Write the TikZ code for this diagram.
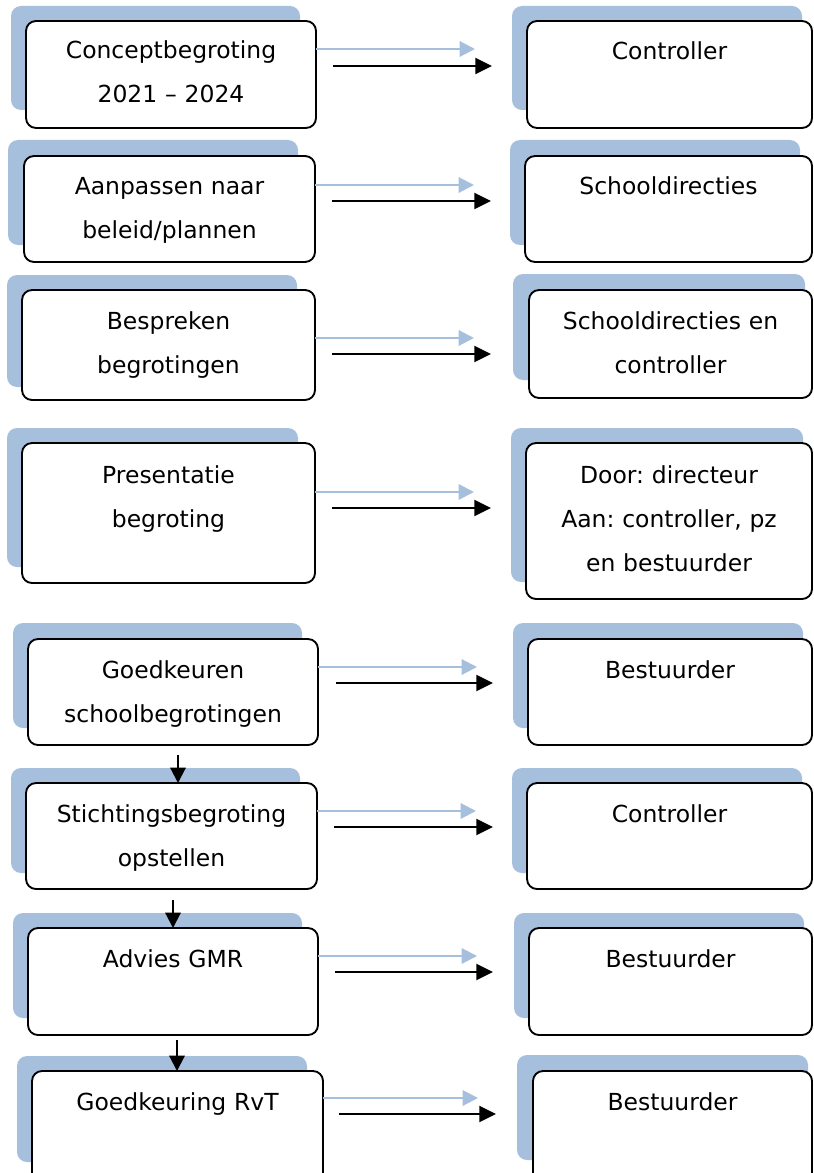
\documentclass[tikz,border=0pt]{standalone}
\usepackage{fontspec}
\setmainfont{DejaVu Sans}
\usetikzlibrary{arrows.meta,calc,fit}
\definecolor{shade}{HTML}{A6BFDD}
\frenchspacing
\tikzset{
  box/.style={draw=black, line width=1.4pt, fill=white, rounded corners=7.5pt, inner sep=0pt, outer sep=0pt},
  shadowbox/.style={fill=shade, rounded corners=7.5pt},
  txt/.style={anchor=base, align=center, text width=220pt, font=\fontsize{17.6}{33}\selectfont, inner sep=0pt},
  bluearr/.style={draw=shade, line width=1.6pt, -{Triangle[length=11.5pt,width=11.5pt]}},
  blackarr/.style={draw=black, line width=1.6pt, -{Triangle[length=12.5pt,width=12pt]}},
  downarr/.style={draw=black, line width=1.6pt, -{Triangle[length=11.5pt,width=11.5pt]}}
}
\begin{document}
\begin{tikzpicture}[x=0.75pt,y=-0.75pt]
\clip (0,0) rectangle (813,1173);
\fill[white] (0,0) rectangle (813,1173);

% Row 1
\fill[shadowbox] (11,6) rectangle (300,110);
\node[box, fit={(26,21) (316,128)}] (L1) {};
\node[txt] (tL1) at ($(L1.north)+(0,38)$) {Conceptbegroting\\2021 – 2024};
\fill[shadowbox] (512,6) rectangle (802,110);
\node[box, fit={(527,21) (812,128)}] (R1) {};
\node[txt] (tR1) at ($(R1.north)+(0,39)$) {Controller};
\draw[bluearr] ($(L1.north east)+(0,28)$) -- ++(159,0);
\draw[blackarr] ($(L1.north east)+(17,45)$) -- ++(159,0);

% Row 2
\fill[shadowbox] (8,140) rectangle (298,245);
\node[box, fit={(24,156) (315,262)}] (L2) {};
\node[txt] (tL2) at ($(L2.north)+(0,39)$) {Aanpassen naar\\beleid/plannen};
\fill[shadowbox] (510,140) rectangle (800,245);
\node[box, fit={(525,156) (812,262)}] (R2) {};
\node[txt] (tR2) at ($(R2.north)+(0,39)$) {Schooldirecties};
\draw[bluearr] ($(L2.north east)+(0,29)$) -- ++(159,0);
\draw[blackarr] ($(L2.north east)+(17,45)$) -- ++(159,0);

% Row 3
\fill[shadowbox] (7,275) rectangle (297,387);
\node[box, fit={(22,290) (315,400)}] (L3) {};
\node[txt] (tL3) at ($(L3.north)+(0,39)$) {Bespreken\\begrotingen};
\fill[shadowbox] (513,274) rectangle (805,380);
\node[box, fit={(529,290) (812,398)}] (R3) {};
\node[txt] (tR3) at ($(R3.north)+(0,39)$) {Schooldirecties en\\controller};
\draw[bluearr] ($(L3.north east)+(0,48)$) -- ++(159,0);
\draw[blackarr] ($(L3.north east)+(17,64)$) -- ++(159,0);

% Row 4
\fill[shadowbox] (7,428) rectangle (298,567);
\node[box, fit={(22,443) (315,583)}] (L4) {};
\node[txt] (tL4) at ($(L4.north)+(0,40)$) {Presentatie\\begroting};
\fill[shadowbox] (511,428) rectangle (803,582);
\node[box, fit={(526,443) (812,599)}] (R4) {};
\node[txt] (tR4) at ($(R4.north)+(0,40)$) {Door: directeur\\Aan: controller, pz\\en bestuurder};
\draw[bluearr] ($(L4.north east)+(0,49)$) -- ++(159,0);
\draw[blackarr] ($(L4.north east)+(17,65)$) -- ++(159,0);

% Row 5
\fill[shadowbox] (13,623) rectangle (302,728);
\node[box, fit={(28,639) (318,745)}] (L5) {};
\node[txt] (tL5) at ($(L5.north)+(0,39)$) {Goedkeuren\\schoolbegrotingen};
\fill[shadowbox] (513,623) rectangle (803,728);
\node[box, fit={(528,639) (812,745)}] (R5) {};
\node[txt] (tR5) at ($(R5.north)+(0,39)$) {Bestuurder};
\draw[bluearr] ($(L5.north east)+(0,28)$) -- ++(159,0);
\draw[blackarr] ($(L5.north east)+(18,44)$) -- ++(157,0);

% Row 6
\fill[shadowbox] (11,768) rectangle (300,873);
\node[box, fit={(26,783) (317,889)}] (L6) {};
\node[txt] (tL6) at ($(L6.north)+(0,39)$) {Stichtingsbegroting\\opstellen};
\fill[shadowbox] (512,768) rectangle (802,873);
\node[box, fit={(527,783) (812,889)}] (R6) {};
\node[txt] (tR6) at ($(R6.north)+(0,39)$) {Controller};
\draw[bluearr] ($(L6.north east)+(0,28)$) -- ++(159,0);
\draw[blackarr] ($(L6.north east)+(17,44)$) -- ++(159,0);

% Row 7
\fill[shadowbox] (13,913) rectangle (302,1018);
\node[box, fit={(28,928) (318,1035)}] (L7) {};
\node[txt] (tL7) at ($(L7.north)+(0,39)$) {Advies GMR};
\fill[shadowbox] (514,913) rectangle (804,1018);
\node[box, fit={(529,928) (812,1035)}] (R7) {};
\node[txt] (tR7) at ($(R7.north)+(0,39)$) {Bestuurder};
\draw[bluearr] ($(L7.north east)+(0,28)$) -- ++(159,0);
\draw[blackarr] ($(L7.north east)+(17,44)$) -- ++(158,0);

% Row 8
\fill[shadowbox] (17,1056) rectangle (307,1162);
\node[box, fit={(32,1071) (323,1185)}] (L8) {};
\node[txt] (tL8) at ($(L8.north)+(0,39)$) {Goedkeuring RvT};
\fill[shadowbox] (517,1055) rectangle (808,1160);
\node[box, fit={(533,1071) (812,1185)}] (R8) {};
\node[txt] (tR8) at ($(R8.north)+(0,39)$) {Bestuurder};
\draw[bluearr] ($(L8.north east)+(0,27)$) -- ++(155,0);
\draw[blackarr] ($(L8.north east)+(16,43)$) -- ++(157,0);

% Vertical arrows
\coordinate (d1) at ($(L5.south)+(5,10)$);
\draw[downarr] (d1) -- (d1 |- L6.north);
\coordinate (d2) at ($(L6.south)+(1.5,11)$);
\draw[downarr] (d2) -- (d2 |- L7.north);
\coordinate (d3) at ($(L7.south)+(4,5)$);
\draw[downarr] (d3) -- (d3 |- L8.north);
\end{tikzpicture}
\end{document}
